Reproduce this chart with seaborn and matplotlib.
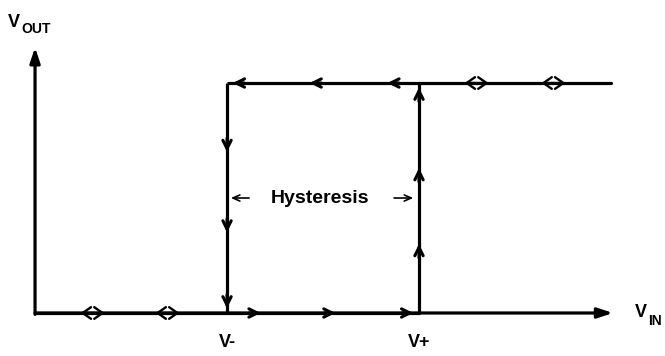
import matplotlib
matplotlib.use("Agg")
import matplotlib.pyplot as plt
import seaborn as sns
import pandas as pd

# thresholds and output levels (arbitrary units)
v_minus = 2.0
v_plus = 4.0
v_low = 0.0
v_high = 1.0
vin_max = 6.0
vout_axis_top = 1.155
vin_axis_end = 6.0

# the hysteresis loop: lower branch, rising edge, upper branch
loop_x = [0.0, v_plus, v_plus, vin_max]
loop_y = [v_low, v_low, v_high, v_high]
fall_x = [v_minus, v_minus]
fall_y = [v_high, v_low]
upper_x = [v_minus, v_plus]
upper_y = [v_high, v_high]

# direction markers along the branches (tip positions)
low_right_tips = [2.35, 3.13, 3.94]
low_both_ways = [0.6, 1.38]
high_left_tips = [2.06, 2.86, 3.67]
high_both_ways = [4.6, 5.4]
fall_down_tips = [0.70, 0.35, 0.02]
rise_up_tips = [0.98, 0.63, 0.30]

labels_x = [v_minus, v_plus]
labels_txt = ["V-", "V+"]

sns.set_style("white")
plt.rcParams['font.family'] = ['Liberation Sans', 'DejaVu Sans']
plt.rcParams['text.color'] = 'black'

fig = plt.figure(figsize=(6.65, 3.56), dpi=100)
ax = fig.add_axes([0, 0, 1, 1])
ax.set_xlim(-0.365, 6.5625)
ax.set_ylim(-0.187, 1.361)
ax.axis("off")

lw = 2.3
df_loop = pd.DataFrame({"x": loop_x, "y": loop_y})
sns.lineplot(data=df_loop, x="x", y="y", estimator=None, sort=False,
             color="black", linewidth=lw, ax=ax)
ax.plot(fall_x, fall_y, color="black", linewidth=lw, solid_capstyle="butt")
ax.plot(upper_x, upper_y, color="black", linewidth=lw, solid_capstyle="butt")

# axes as arrows
axis_kw = dict(arrowstyle="-|>,head_length=0.9,head_width=0.3", color="black", lw=lw,
               shrinkA=0, shrinkB=0)
ax.annotate("", xy=(0, vout_axis_top), xytext=(0, v_low - 0.006), arrowprops=axis_kw)
ax.annotate("", xy=(vin_axis_end + 0.02, v_low), xytext=(0, v_low), arrowprops=axis_kw)

head = dict(arrowstyle="->,head_length=0.6,head_width=0.3", color="black", lw=2.2,
            shrinkA=0, shrinkB=0)
dx = 0.12
dy = 0.06
for t in low_right_tips:
    ax.annotate("", xy=(t, v_low), xytext=(t - dx, v_low), arrowprops=head)
for t in high_left_tips:
    ax.annotate("", xy=(t, v_high), xytext=(t + dx, v_high), arrowprops=head)
for t in fall_down_tips:
    ax.annotate("", xy=(v_minus, t), xytext=(v_minus, t + dy), arrowprops=head)
for t in rise_up_tips:
    ax.annotate("", xy=(v_plus, t), xytext=(v_plus, t - dy), arrowprops=head)

# two-way markers: a pair of opposite heads back to back
pair = dict(arrowstyle="->,head_length=0.6,head_width=0.42", color="black", lw=1.7,
            shrinkA=0, shrinkB=0)
half = 0.125
for c in low_both_ways:
    ax.annotate("", xy=(c + half, v_low), xytext=(c, v_low), arrowprops=pair)
    ax.annotate("", xy=(c - half, v_low), xytext=(c, v_low), arrowprops=pair)
for c in high_both_ways:
    ax.annotate("", xy=(c + half, v_high), xytext=(c, v_high), arrowprops=pair)
    ax.annotate("", xy=(c - half, v_high), xytext=(c, v_high), arrowprops=pair)

# hysteresis width annotation
small = dict(arrowstyle="->,head_length=0.5,head_width=0.22", color="black", lw=1.2,
             shrinkA=0, shrinkB=0)
ax.annotate("", xy=(v_minus + 0.04, 0.5), xytext=(v_minus + 0.23, 0.5), arrowprops=small)
ax.annotate("", xy=(v_plus - 0.06, 0.5), xytext=(v_plus - 0.26, 0.5), arrowprops=small)
ax.text((v_minus + v_plus) / 2 - 0.03, 0.5, "Hysteresis", ha="center", va="center",
        fontsize=14, fontweight="bold")

for x, s in zip(labels_x, labels_txt):
    ax.text(x, -0.13, s, ha="center", va="center", fontsize=13, fontweight="bold")

# axis titles with subscripts
ax.text(-0.28, 1.265, "V", ha="left", va="center", fontsize=13, fontweight="bold")
ax.text(-0.145, 1.235, "OUT", ha="left", va="center", fontsize=10, fontweight="bold")
ax.text(6.25, -0.0, "V", ha="left", va="center", fontsize=13, fontweight="bold")
ax.text(6.39, -0.035, "IN", ha="left", va="center", fontsize=10, fontweight="bold")

fig.savefig("out.png", dpi=100)
